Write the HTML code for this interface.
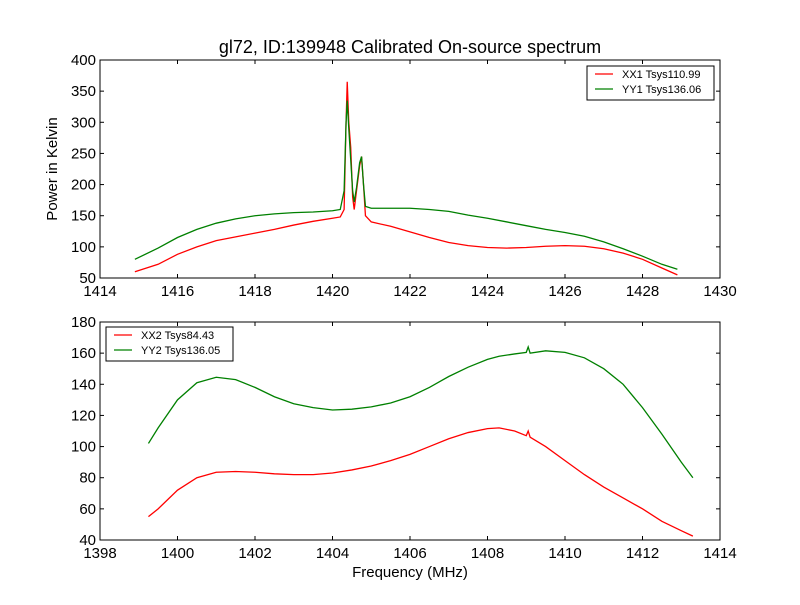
<!DOCTYPE html>
<html><head><meta charset="utf-8"><style>
body{margin:0;background:#fff;}
svg text{font-family:"Liberation Sans",sans-serif;}
</style></head><body>
<svg id="chart" width="800" height="600" xmlns="http://www.w3.org/2000/svg">
<rect width="800" height="600" fill="#fff"/>
<text x="410" y="53" font-size="18" text-anchor="middle">gl72, ID:139948 Calibrated On-source spectrum</text>
<text transform="translate(57,169) rotate(-90)" font-size="15" text-anchor="middle">Power in Kelvin</text>
<text x="410" y="577" font-size="15" text-anchor="middle">Frequency (MHz)</text>
<g id="top"></g>
<g id="bot"></g>
</svg>
<script>
const topXTicks=[1414,1416,1418,1420,1422,1424,1426,1428,1430];
const topYTicks=[50,100,150,200,250,300,350,400];
const topFreqRed=[1414.9,1415.5,1416,1416.5,1417,1417.5,1418,1418.5,1419,1419.5,1420,1420.2,1420.3,1420.35,1420.38,1420.42,1420.47,1420.52,1420.56,1420.62,1420.7,1420.75,1420.8,1420.85,1421,1421.5,1422,1422.5,1423,1423.5,1424,1424.5,1425,1425.5,1426,1426.5,1427,1427.5,1428,1428.5,1428.9];
const topRed=[60,72,88,100,110,116,122,128,135,141,146,148,160,300,365,300,260,180,160,190,230,245,200,150,140,133,124,115,107,102,99,98,99,101,102,101,97,90,80,66,55];
const topGreen=[80,98,115,128,138,145,150,153,155,156,158,160,190,300,335,290,240,190,172,195,235,245,200,165,162,162,162,160,157,151,146,140,134,128,123,117,108,97,85,72,64];
const botXTicks=[1398,1400,1402,1404,1406,1408,1410,1412,1414];
const botYTicks=[40,60,80,100,120,140,160,180];
const botFreq=[1399.25,1399.5,1400,1400.5,1401,1401.5,1402,1402.5,1403,1403.5,1404,1404.5,1405,1405.5,1406,1406.5,1407,1407.5,1408,1408.3,1408.7,1409,1409.05,1409.1,1409.5,1410,1410.5,1411,1411.5,1412,1412.5,1413,1413.3];
const botRed=[55,60,72,80,83.5,84,83.5,82.5,82,82,83,85,87.5,91,95,100,105,109,111.5,112,110,107,110,106,100,91,82,74,67,60,52,46,42.5];
const botGreen=[102,112,130,141,144.5,143,138,132,127.5,125,123.5,124,125.5,128,132,138,145,151,156,158,159.5,160.5,164,160,161.5,160.5,157,150,140,125,108,90,80];
const NS="http://www.w3.org/2000/svg";
function mk(tag,attrs,parent){const e=document.createElementNS(NS,tag);for(const k in attrs)e.setAttribute(k,attrs[k]);parent.appendChild(e);return e;}
function panel(g,L,T,W,H,xt,yt,series,legend){
  const x0=xt[0],x1=xt[xt.length-1],y0=yt[0],y1=yt[yt.length-1];
  const sx=v=>L+(v-x0)/(x1-x0)*W, sy=v=>T+H-(v-y0)/(y1-y0)*H;
  series.forEach(s=>{
    const pts=s.x.map((f,i)=>sx(f).toFixed(2)+","+sy(s.y[i]).toFixed(2)).join(" ");
    const p=mk("polyline",{points:pts,fill:"none",stroke:s.c,"stroke-width":1.3},g);
    
    
  });
  const fr=mk("rect",{x:L,y:T,width:W,height:H,fill:"none",stroke:"#000"},g);
  
  
  xt.forEach(v=>{const X=sx(v);
    mk("line",{x1:X,x2:X,y1:T+H,y2:T+H-4,stroke:"#000"},g);
    mk("line",{x1:X,x2:X,y1:T,y2:T+4,stroke:"#000"},g);
    const t=mk("text",{x:X,y:T+H+18,"font-size":15,"text-anchor":"middle"},g);t.textContent=v;
    
    });
  yt.forEach(v=>{const Y=sy(v);
    mk("line",{x1:L,x2:L+4,y1:Y,y2:Y,stroke:"#000"},g);
    mk("line",{x1:L+W,x2:L+W-4,y1:Y,y2:Y,stroke:"#000"},g);
    const t=mk("text",{x:L-4,y:Y+5,"font-size":15,"text-anchor":"end"},g);t.textContent=v;
    
    });
  const lg=mk("g",{},g);
  
  
  mk("rect",{x:legend.x,y:legend.y,width:127,height:34,fill:"#fff",stroke:"#000"},lg);
  series.forEach((s,i)=>{const Y=legend.y+8+i*15;
    mk("line",{x1:legend.x+8,x2:legend.x+26,y1:Y,y2:Y,stroke:s.c,"stroke-width":1.3},lg);
    const t=mk("text",{x:legend.x+35,y:Y+4,"font-size":11},lg);t.textContent=s.label;
    
    });
}
panel(document.getElementById("top"),100,60,620,218,topXTicks,topYTicks,[
 {x:topFreqRed,y:topRed,c:"#ff0000",label:"XX1 Tsys110.99",name:"xx1-line"},
 {x:topFreqRed,y:topGreen,c:"#008000",label:"YY1 Tsys136.06",name:"yy1-line"}],{x:587,y:66});
panel(document.getElementById("bot"),100,322,620,218,botXTicks,botYTicks,[
 {x:botFreq,y:botRed,c:"#ff0000",label:"XX2 Tsys84.43",name:"xx2-line"},
 {x:botFreq,y:botGreen,c:"#008000",label:"YY2 Tsys136.05",name:"yy2-line"}],{x:106,y:327});
</script>
</body></html>
